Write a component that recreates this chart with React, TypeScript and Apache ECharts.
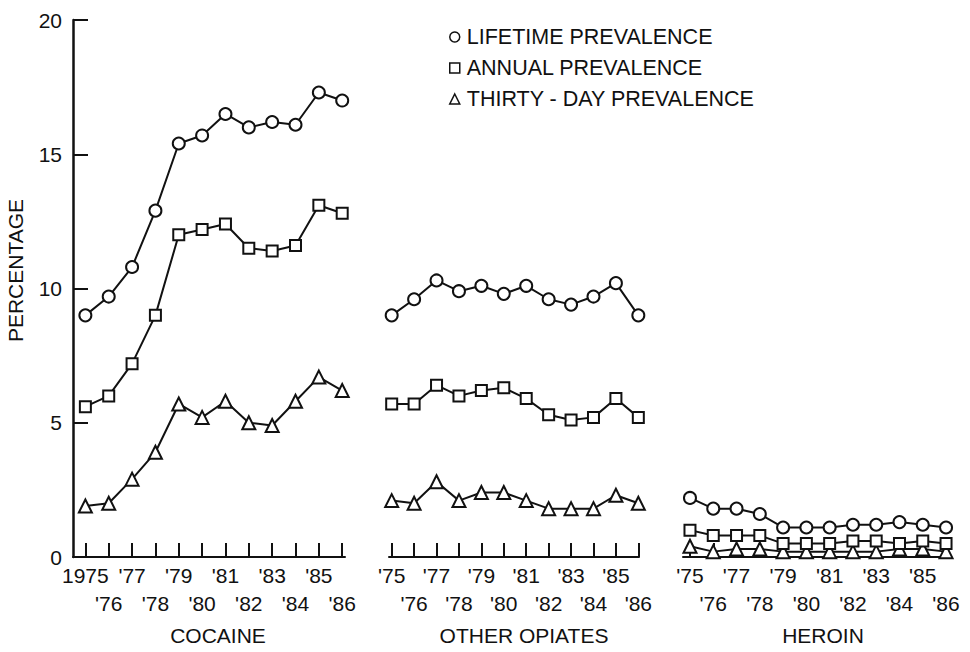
import React, { useEffect, useRef } from "react";
import * as echarts from "echarts";

const years = [1975, 1976, 1977, 1978, 1979, 1980, 1981, 1982, 1983, 1984, 1985, 1986];
const cocaineLabels = ["1975", "'76", "'77", "'78", "'79", "'80", "'81", "'82", "'83", "'84", "'85", "'86"];
const shortLabels = ["'75", "'76", "'77", "'78", "'79", "'80", "'81", "'82", "'83", "'84", "'85", "'86"];
const panelNames = ["COCAINE", "OTHER OPIATES", "HEROIN"];
const seriesNames = ["LIFETIME PREVALENCE", "ANNUAL PREVALENCE", "THIRTY - DAY PREVALENCE"];
const yTicks = [0, 5, 10, 15, 20];

const cocaineLifetime = [9.0, 9.7, 10.8, 12.9, 15.4, 15.7, 16.5, 16.0, 16.2, 16.1, 17.3, 17.0];
const cocaineAnnual = [5.6, 6.0, 7.2, 9.0, 12.0, 12.2, 12.4, 11.5, 11.4, 11.6, 13.1, 12.8];
const cocaineThirty = [1.9, 2.0, 2.9, 3.9, 5.7, 5.2, 5.8, 5.0, 4.9, 5.8, 6.7, 6.2];

const opiatesLifetime = [9.0, 9.6, 10.3, 9.9, 10.1, 9.8, 10.1, 9.6, 9.4, 9.7, 10.2, 9.0];
const opiatesAnnual = [5.7, 5.7, 6.4, 6.0, 6.2, 6.3, 5.9, 5.3, 5.1, 5.2, 5.9, 5.2];
const opiatesThirty = [2.1, 2.0, 2.8, 2.1, 2.4, 2.4, 2.1, 1.8, 1.8, 1.8, 2.3, 2.0];

const heroinLifetime = [2.2, 1.8, 1.8, 1.6, 1.1, 1.1, 1.1, 1.2, 1.2, 1.3, 1.2, 1.1];
const heroinAnnual = [1.0, 0.8, 0.8, 0.8, 0.5, 0.5, 0.5, 0.6, 0.6, 0.5, 0.6, 0.5];
const heroinThirty = [0.4, 0.2, 0.3, 0.3, 0.2, 0.2, 0.2, 0.2, 0.2, 0.3, 0.3, 0.2];

const FONT = "'Liberation Sans', Arial, 'DejaVu Sans', sans-serif";
const INK = "#111";

export default function App() {
  const ref = useRef<HTMLDivElement>(null);

  useEffect(() => {
    if (!ref.current) return;
    const chart = echarts.init(ref.current, undefined, { renderer: "svg" });

    const grids = [
      { left: 73, top: 20, width: 272, height: 537, min: 1974.47, max: 1986.12, labels: cocaineLabels, pad: 18 },
      { left: 389, top: 20, width: 250, height: 537, min: 1974.88, max: 1986.03, labels: shortLabels, pad: 20 },
      { left: 683, top: 20, width: 267, height: 537, min: 1974.7, max: 1986.17, labels: shortLabels, pad: 13 },
    ];

    const panelData = [
      [cocaineLifetime, cocaineAnnual, cocaineThirty],
      [opiatesLifetime, opiatesAnnual, opiatesThirty],
      [heroinLifetime, heroinAnnual, heroinThirty],
    ];
    const symbols = ["circle", "rect", "triangle"];
    const sizes = [12, 11, 13];

    const oddYears = years.filter((_, i) => i % 2 === 0);
    const evenYears = years.filter((_, i) => i % 2 === 1);

    const series: any[] = [];
    panelData.forEach((sets, gi) => {
      sets.forEach((vals, si) => {
        series.push({
          type: "line",
          name: seriesNames[si],
          xAxisIndex: gi * 2,
          yAxisIndex: gi,
          data: years.map((y, i) => [y, vals[i]]),
          symbol: symbols[si],
          symbolSize: sizes[si],
          showAllSymbol: true,
          lineStyle: { color: INK, width: 2 },
          itemStyle: { color: "#fff", borderColor: INK, borderWidth: 2 },
          z: 3 - si,
        });
      });
    });

    const xAxes: any[] = [];
    grids.forEach((g, gi) => {
      const fmt = (v: number) => {
        const idx = years.indexOf(Math.round(v));
        return idx >= 0 ? g.labels[idx] : "";
      };
      // main axis: line, all ticks, top-row labels, panel name
      xAxes.push({
        type: "value",
        gridIndex: gi,
        position: "bottom",
        min: g.min,
        max: g.max,
        name: panelNames[gi],
        nameLocation: "middle",
        nameGap: 68,
        nameTextStyle: { fontSize: 21, color: INK, fontFamily: FONT, padding: [0, 0, 0, g.pad] },
        axisLine: { show: true, lineStyle: { color: INK, width: 2 } },
        axisTick: { show: true, inside: true, length: 14, customValues: years, lineStyle: { color: INK, width: 2 } },
        axisLabel: {
          show: true,
          customValues: oddYears,
          showMinLabel: true,
          showMaxLabel: true,
          fontSize: 21,
          margin: 8,
          color: INK,
          fontFamily: FONT,
          formatter: fmt,
        },
        splitLine: { show: false },
      });
      // second axis: bottom-row labels only
      xAxes.push({
        type: "value",
        gridIndex: gi,
        position: "bottom",
        offset: 0,
        min: g.min,
        max: g.max,
        axisLine: { show: false },
        axisTick: { show: false },
        axisLabel: {
          show: true,
          customValues: evenYears,
          showMinLabel: true,
          showMaxLabel: true,
          fontSize: 21,
          margin: 36,
          color: INK,
          fontFamily: FONT,
          formatter: fmt,
        },
        splitLine: { show: false },
      });
    });

    chart.setOption({
      animation: false,
      backgroundColor: "#fff",
      textStyle: { fontFamily: FONT, color: INK },
      legend: {
        orient: "vertical",
        left: 444,
        top: 20,
        itemWidth: 10,
        itemHeight: 10,
        itemGap: 7,
        selectedMode: false,
        textStyle: { fontSize: 21.5, lineHeight: 24, color: INK, fontFamily: FONT, padding: [0, 0, 0, 2] },
        itemStyle: { color: "#fff", borderColor: INK, borderWidth: 1.5 },
        data: [
          { name: seriesNames[0], icon: "circle" },
          { name: seriesNames[1], icon: "rect" },
          { name: seriesNames[2], icon: "triangle" },
        ],
      },
      grid: grids.map((g) => ({ left: g.left, top: g.top, width: g.width, height: g.height, containLabel: false })),
      xAxis: xAxes,
      yAxis: grids.map((g, gi) => ({
        type: "value",
        gridIndex: gi,
        min: 0,
        max: 20,
        interval: 5,
        show: gi === 0,
        name: gi === 0 ? "PERCENTAGE" : "",
        nameLocation: "middle",
        nameGap: 47,
        nameRotate: 90,
        nameTextStyle: { fontSize: 21, color: INK, fontFamily: FONT, padding: [0, 0, 0, 36] },
        axisLine: { show: true, lineStyle: { color: INK, width: 2.5 } },
        axisTick: { show: true, inside: true, length: 15, lineStyle: { color: INK, width: 2 } },
        axisLabel: {
          show: true,
          fontSize: 21,
          margin: 11,
          color: INK,
          fontFamily: FONT,
          formatter: (v: number) => (yTicks.indexOf(v) >= 0 ? String(v) : ""),
        },
        splitLine: { show: false },
      })),
      series,
    });

    return () => chart.dispose();
  }, []);

  return (
    <div
      ref={ref}
      style={{ position: "fixed", left: 0, top: 0, width: 970, height: 652, background: "#fff" }}
    />
  );
}
